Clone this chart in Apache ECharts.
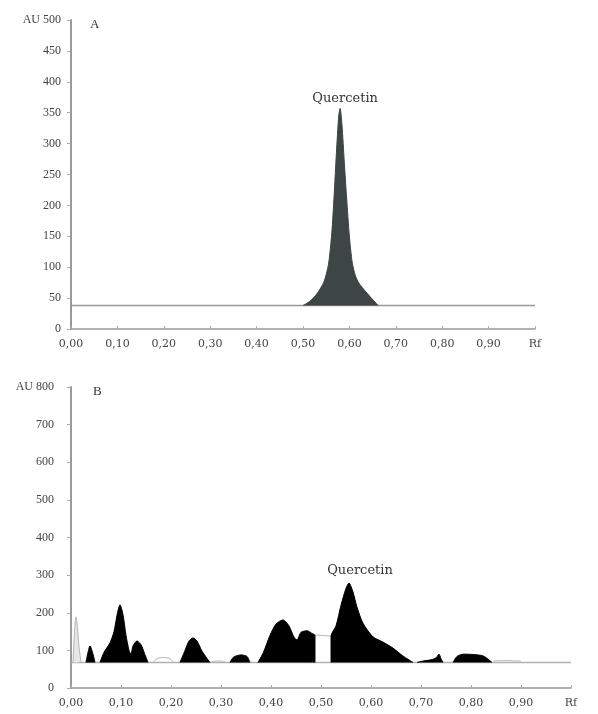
<!DOCTYPE html>
<html>
<head>
<meta charset="utf-8">
<script src="https://cdn.jsdelivr.net/npm/echarts@6/dist/echarts.min.js"></script>
<style>
  html, body { margin: 0; padding: 0; background: #fff; }
  #chart { width: 598px; height: 714px; }
</style>
</head>
<body>
<div id="chart"></div>
<script>
// Rf ticks shared by both densitograms
const rfTicks = [0, 0.1, 0.2, 0.3, 0.4, 0.5, 0.6, 0.7, 0.8, 0.9, 1.0];

// panel A : quercetin standard
const baseA = 38;
const peakA = [[0.500,38],[0.515,45],[0.530,57],[0.545,76],[0.555,105],[0.562,155],[0.567,215],
  [0.572,285],[0.577,345],[0.580,357],[0.584,330],[0.589,270],[0.594,212],[0.600,150],[0.606,108],
  [0.613,86],[0.620,75],[0.630,65],[0.645,52],[0.662,38]];

// panel B : sample extract, filled peaks
const baseB = 68;
const peaksB = [
  [[0.030,68],[0.034,95],[0.038,112],[0.043,95],[0.048,68]],
  [[0.058,68],[0.066,95],[0.078,120],[0.086,150],[0.093,200],[0.098,221],[0.104,195],[0.110,140],
   [0.116,100],[0.120,90],[0.124,112],[0.132,125],[0.140,115],[0.147,92],[0.154,68]],
  [[0.218,68],[0.228,100],[0.236,125],[0.244,133],[0.252,125],[0.262,98],[0.278,68]],
  [[0.318,68],[0.325,82],[0.340,88],[0.352,84],[0.358,68]],
  [[0.374,68],[0.385,95],[0.398,140],[0.410,170],[0.424,181],[0.436,165],[0.446,135],[0.452,128],
   [0.460,148],[0.472,152],[0.482,145],[0.488,140],[0.488,68]],
  [[0.520,68],[0.520,138],[0.530,165],[0.540,220],[0.550,265],[0.556,279],[0.564,255],[0.572,215],
   [0.584,172],[0.604,136],[0.624,122],[0.644,106],[0.664,85],[0.684,68]],
  [[0.692,68],[0.705,72],[0.720,75],[0.730,80],[0.736,90],[0.740,78],[0.744,68]],
  [[0.764,68],[0.772,84],[0.785,90],[0.805,89],[0.825,85],[0.842,68]]
];
// panel B : unfilled (grey outline) peaks
const outlinesB = [
  [[0.004,68],[0.007,150],[0.010,189],[0.013,160],[0.016,110],[0.020,70]],
  [[0.164,68],[0.172,78],[0.185,81],[0.198,78],[0.205,68]],
  [[0.282,70],[0.295,72],[0.308,70]],
  [[0.489,141],[0.519,138]],
  [[0.845,72],[0.870,73],[0.900,71]]
];

const font = 'Liberation Serif';
const wide = 'DejaVu Serif';
const apex = arr => arr.reduce((a, b) => (b[1] > a[1] ? b : a));

function xAxisFor(i) {
  return {
    type: 'value', gridIndex: i, min: 0, max: 1, interval: 0.1,
    axisLine: { lineStyle: { color: '#999', width: 1.5 } },
    axisTick: { show: true, inside: true, length: 3, lineStyle: { color: '#aaa' } },
    splitLine: { show: false },
    axisLabel: {
      color: '#444', fontFamily: wide, fontSize: 11, margin: 10,
      formatter: v => (Math.abs(v - 1) < 1e-9 ? 'Rf' : v.toFixed(2).replace('.', ','))
    }
  };
}
function yAxisFor(i, max, step, margin) {
  return {
    type: 'value', gridIndex: i, min: 0, max: max, interval: step,
    axisLine: { show: true, lineStyle: { color: '#999', width: 2 } },
    axisTick: { show: true, length: 4, lineStyle: { color: '#aaa' } },
    splitLine: { show: false },
    axisLabel: {
      color: '#444', fontFamily: font, fontSize: 12, margin: margin,
      formatter: v => (v === max ? 'AU ' + v : String(v))
    }
  };
}
const baseLine = (i, base, color) => ({
  type: 'line', xAxisIndex: i, yAxisIndex: i, data: [[0, base], [1, base]],
  symbol: 'none', lineStyle: { color: color, width: 1.5 }, z: 1, silent: true
});
const peakLabel = (arr, dx, dy) => ({
  symbol: 'circle', symbolSize: 1, itemStyle: { color: 'transparent' },
  label: { show: true, position: 'top', offset: [dx, dy], formatter: 'Quercetin',
           color: '#333', fontFamily: wide, fontSize: 13 },
  data: [{ coord: apex(arr) }]
});

const series = [
  baseLine(0, baseA, '#999'),
  {
    type: 'line', xAxisIndex: 0, yAxisIndex: 0, data: peakA, symbol: 'none', smooth: 0.25,
    lineStyle: { color: '#3d4545', width: 1 },
    areaStyle: { color: '#3d4545', opacity: 1, origin: baseA },
    markPoint: peakLabel(peakA, 5, 2), z: 3
  },
  baseLine(1, baseB, '#b8b0aa')
];
peaksB.forEach((p, k) => {
  series.push({
    type: 'line', xAxisIndex: 1, yAxisIndex: 1, data: p, symbol: 'none', smooth: 0.25,
    lineStyle: { color: '#000', width: 1 },
    areaStyle: { color: '#000', opacity: 1, origin: baseB },
    markPoint: k === 5 ? peakLabel(p, 11, 0) : undefined, z: 3
  });
});
outlinesB.forEach((p, k) => {
  series.push({
    type: 'line', xAxisIndex: 1, yAxisIndex: 1, data: p, symbol: 'none', smooth: 0.25,
    lineStyle: { color: '#b5b5b5', width: 1 },
    areaStyle: k === 0 ? { color: '#e6e6e6', opacity: 1, origin: baseB } : undefined, z: 2
  });
});

const chart = echarts.init(document.getElementById('chart'));
chart.setOption({
  animation: false,
  backgroundColor: '#fff',
  title: [
    { text: 'A', left: 85, top: 13, textStyle: { fontFamily: font, fontSize: 13, fontWeight: 'normal', color: '#333' } },
    { text: 'B', left: 88, top: 380, textStyle: { fontFamily: font, fontSize: 13, fontWeight: 'normal', color: '#333' } }
  ],
  grid: [
    { left: 71, top: 20, width: 464, height: 309 },
    { left: 71, top: 387, width: 500, height: 301 }
  ],
  xAxis: [xAxisFor(0), xAxisFor(1)],
  yAxis: [yAxisFor(0, 500, 50, 10), yAxisFor(1, 800, 100, 17)],
  series: series
});
</script>
</body>
</html>
